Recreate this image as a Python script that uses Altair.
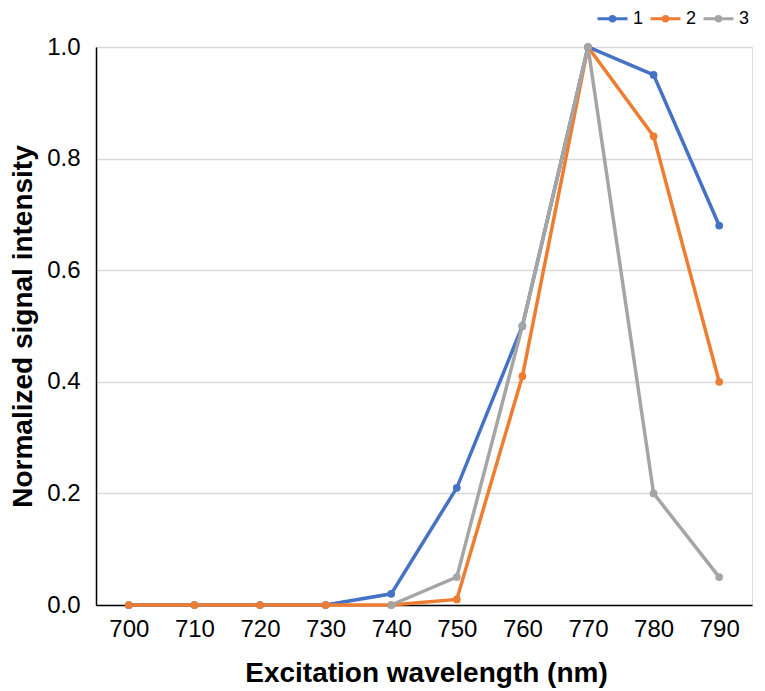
import altair as alt
import pandas as pd

wavelengths = [700, 710, 720, 730, 740, 750, 760, 770, 780, 790]
series1_x = [700, 710, 720, 730, 740, 750, 760, 770, 780, 790]
series1_y = [0, 0, 0, 0, 0.02, 0.21, 0.50, 1.0, 0.95, 0.68]
series2_x = [700, 710, 720, 730, 740, 750, 760, 770, 780, 790]
series2_y = [0, 0, 0, 0, 0, 0.01, 0.41, 1.0, 0.84, 0.40]
series3_x = [740, 750, 760, 770, 780, 790]
series3_y = [0, 0.05, 0.50, 1.0, 0.20, 0.05]
series_names = ["1", "2", "3"]
colors = ["#4472C4", "#ED7D31", "#A5A5A5"]
y_ticks = [0, 0.2, 0.4, 0.6, 0.8, 1.0]

rows = []
for name, xs, ys in zip(series_names, [series1_x, series2_x, series3_x], [series1_y, series2_y, series3_y]):
    for i, (x, y) in enumerate(zip(xs, ys)):
        rows.append({"series": name, "wl": x, "val": y, "order": i})
df = pd.DataFrame(rows)

FONT = "Liberation Sans"

x_enc = alt.X("wl:Q",
              scale=alt.Scale(domain=[695, 795], nice=False, zero=False),
              axis=alt.Axis(values=wavelengths, format="d", grid=False, ticks=False, tickSize=0,
                            labelPadding=12, labelFontSize=24, labelColor="#000000", labelFont=FONT,
                            domainColor="#000000", domainWidth=1.5,
                            title="Excitation wavelength (nm)", titleFontSize=28, titleFont=FONT,
                            titleFontWeight="bold", titleColor="#000000",
                            titleX=330, titleY=68, titleBaseline="middle", titleAlign="center"))
y_enc = alt.Y("val:Q",
              scale=alt.Scale(domain=[0, 1], nice=False),
              axis=alt.Axis(values=y_ticks, format=".1f", grid=True, gridColor="#D9D9D9", gridWidth=1.3,
                            ticks=False, tickSize=0, labelPadding=16, labelFontSize=24,
                            labelColor="#000000", labelFont=FONT,
                            domainColor="#000000", domainWidth=1.5,
                            title="Normalized signal intensity", titleFontSize=28, titleFont=FONT,
                            titleFontWeight="bold", titleColor="#000000",
                            titleX=-73, titleY=279, titleAngle=-90, titleBaseline="middle",
                            titleAlign="center"))

color_scale = alt.Scale(domain=series_names, range=colors)

legend = alt.Legend(orient="none", direction="horizontal", legendX=500, legendY=-45,
                    title=None, symbolType="M-1,0H1M-0.15,0A0.15,0.15,0,1,1,0.15,0A0.15,0.15,0,1,1,-0.15,0",
                    symbolSize=900, symbolStrokeWidth=3, labelFontSize=18, labelFont=FONT,
                    labelColor="#000000", labelOffset=4, columnPadding=0, padding=0)

lines = alt.Chart(df).mark_line(strokeWidth=3.5).encode(
    x=x_enc, y=y_enc,
    color=alt.Color("series:N", scale=color_scale, legend=legend),
    order="order:Q",
)

points = alt.Chart(df).mark_point(filled=True, size=60, opacity=1).encode(
    x=x_enc, y=y_enc,
    color=alt.Color("series:N", scale=color_scale, legend=legend),
)

chart = alt.layer(lines, points).properties(
    width=656, height=558,
    autosize=alt.AutoSizeParams(type="none"),
    padding={"left": 88, "top": 39, "right": 5, "bottom": 84},
).configure_view(stroke=None).configure(background="#FFFFFF")

chart.save("out.html", embed_options={"renderer": "svg", "actions": False})
